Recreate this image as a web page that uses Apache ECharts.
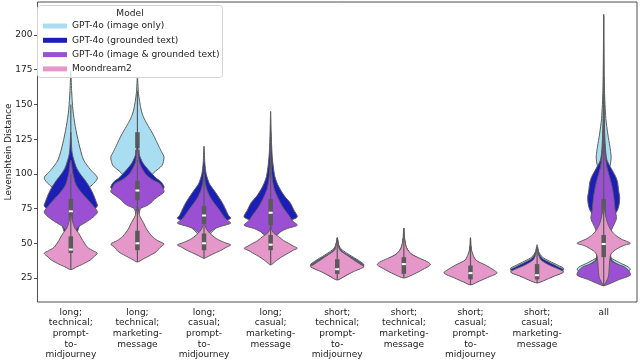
<!DOCTYPE html>
<html>
<head>
<meta charset="utf-8">
<script src="https://cdn.jsdelivr.net/npm/echarts@6/dist/echarts.min.js"></script>
<style>html,body{margin:0;padding:0;background:#fff}#chart{width:640px;height:361px}</style>
</head>
<body>
<div id="chart"></div>
<script>
// ---------- data ----------
const categories = [
  "long; technical; prompt-to-midjourney",
  "long; technical; marketing-message",
  "long; casual; prompt-to-midjourney",
  "long; casual; marketing-message",
  "short; technical; prompt-to-midjourney",
  "short; technical; marketing-message",
  "short; casual; prompt-to-midjourney",
  "short; casual; marketing-message",
  "all"
];
const models = ["GPT-4o (image only)", "GPT-4o (grounded text)", "GPT-4o (image & grounded text)", "Moondream2"];
const yTicks = [25, 50, 75, 100, 125, 150, 175, 200];

// violin outlines: [value, relative density (1 = widest)], top to bottom
const imageOnlyDensity = [
  [[174,0],[160,0.03],[146,0.08],[134,0.17],[122,0.3],[110,0.48],[103,0.74],[97,1.0],[92,0.8],[88,0.55],[80,0.42],[70,0.32],[60,0.14],[52,0]],
  [[170,0],[158,0.04],[146,0.14],[140,0.25],[134,0.42],[128,0.6],[122,0.75],[116,0.9],[112,1.0],[106,0.92],[101,0.62],[96,0.45],[90,0.4],[84,0.3],[78,0.15],[74,0]],
  [[108,0],[95,0.08],[84,0.3],[74,0.6],[68,0.7],[62,0.5],[56,0.2],[50,0]],
  [[120,0],[100,0.08],[86,0.3],[75,0.6],[68,0.72],[61,0.5],[55,0.2],[50,0]],
  [[54,0],[49,0.05],[46,0.14],[43,0.35],[40,0.6],[37,0.85],[34.5,1.0],[31,0.62],[28,0.32],[25.5,0]],
  [[55,0],[48,0.07],[43,0.22],[39,0.55],[35,0.88],[31,0.58],[28,0.28],[26,0]],
  [[48,0],[40,0.09],[35,0.38],[31,0.78],[28.5,0.88],[25,0.48],[22,0.18],[21,0]],
  [[49,0],[44,0.06],[40,0.2],[37,0.48],[34,0.8],[31.8,1.0],[28.5,0.6],[25.5,0.25],[23,0]],
  [[215,0],[190,0.01],[160,0.03],[140,0.08],[128,0.16],[120,0.23],[112,0.28],[106,0.24],[101,0.15],[95,0.2],[85,0.3],[75,0.3],[65,0.25],[55,0.2],[45,0.2],[40,0.25],[36,0.6],[33,0.92],[31,1.0],[28,0.7],[25,0.4],[21,0]]
];
const groundedDensity = [
  [[130,0],[115,0.05],[105,0.2],[100,0.35],[95,0.55],[90,0.72],[85,0.85],[80,0.95],[77,1.0],[74,0.85],[70,0.5],[64,0.35],[56,0.2],[50,0]],
  [[125,0],[115,0.05],[108,0.2],[102,0.45],[97,0.7],[94,0.9],[90,1.0],[87,0.7],[84,0.5],[80,0.3],[77,0.12],[72,0]],
  [[120,0],[108,0.03],[100,0.08],[93,0.2],[88,0.38],[83,0.56],[78,0.72],[74,0.82],[70,0.92],[68,1.0],[65,0.7],[61,0.35],[57,0.12],[52,0]],
  [[145,0],[130,0.02],[115,0.05],[105,0.1],[98,0.16],[93,0.25],[88.5,0.37],[84,0.52],[79,0.74],[74,0.87],[69,1.0],[66,0.7],[60,0.35],[54,0.12],[50,0]],
  [[52,0],[47,0.08],[44,0.2],[41,0.45],[38,0.72],[35.5,0.92],[34,1.0],[30.5,0.6],[27,0.3],[24.5,0]],
  [[55,0],[48,0.07],[43,0.22],[39,0.55],[35,0.88],[31,0.58],[28,0.28],[26,0]],
  [[48,0],[40,0.09],[35,0.38],[31,0.78],[28.5,0.88],[25,0.48],[22,0.18],[21,0]],
  [[47.5,0],[43,0.06],[39,0.2],[36,0.48],[33,0.8],[30.8,1.0],[27.5,0.6],[24.5,0.25],[22,0]],
  [[170,0],[140,0.02],[120,0.06],[110,0.12],[104,0.28],[98,0.45],[94,0.52],[88,0.56],[83,0.6],[78,0.58],[74,0.52],[70,0.4],[64,0.3],[55,0.25],[45,0.25],[38,0.3],[34,0.6],[31,0.85],[28,0.95],[25,0.6],[22,0.3],[20,0]]
];
const imageGroundedDensity = [
  [[110,0],[100,0.08],[92,0.2],[86,0.42],[81,0.66],[77,0.84],[72.5,1.0],[69,0.85],[65,0.55],[62,0.3],[58,0.15],[52,0.08],[46,0]],
  [[118,0],[108,0.08],[100,0.3],[96,0.55],[93,0.85],[89,0.97],[87,1.0],[84,0.8],[81,0.6],[79,0.5],[77,0.35],[75,0.12],[70,0.05],[62,0]],
  [[100,0],[93,0.05],[88,0.12],[83,0.24],[79,0.38],[75,0.54],[70,0.72],[67,0.85],[64.5,1.0],[62,0.6],[60,0.35],[57,0.18],[52,0.08],[46,0]],
  [[115,0],[100,0.04],[90,0.12],[84,0.24],[79,0.37],[76,0.46],[71,0.65],[66,0.83],[63,1.0],[60.5,0.6],[58,0.35],[55,0.15],[50,0.05],[46,0]],
  [[52,0],[46,0.08],[43,0.2],[40,0.45],[37,0.75],[35,0.9],[33.5,1.0],[30,0.6],[26.5,0.3],[24,0]],
  [[55,0],[48,0.07],[43,0.22],[39,0.55],[35,0.88],[31,0.58],[28,0.28],[26,0]],
  [[48,0],[40,0.09],[35,0.38],[31,0.78],[28.5,0.88],[25,0.48],[22,0.18],[21,0]],
  [[45,0],[40,0.06],[36,0.2],[33,0.5],[31,0.8],[29,0.95],[26,0.55],[23,0.2],[22,0]],
  [[160,0],[130,0.02],[115,0.05],[105,0.12],[98,0.22],[92,0.3],[86,0.36],[80,0.4],[74,0.43],[68,0.48],[64,0.4],[60,0.3],[50,0.2],[42,0.2],[38,0.25],[35,0.5],[33,0.78],[30,0.95],[27,1.0],[24,0.6],[21.5,0.3],[19.5,0]]
];
const moondreamDensity = [
  [[72,0],[66,0.06],[61,0.15],[57,0.3],[52,0.45],[47,0.63],[44.5,0.85],[42.8,1.0],[40,0.85],[37.8,0.72],[35,0.45],[33,0.22],[31,0]],
  [[77,0],[70,0.08],[65,0.22],[60,0.35],[55,0.55],[52,0.75],[49.5,1.0],[47,0.85],[44,0.72],[41,0.45],[38.5,0.2],[36.5,0]],
  [[64,0],[60,0.1],[57.2,0.22],[54.5,0.38],[52.4,0.55],[50.5,0.78],[48.8,1.0],[47,0.82],[45.2,0.67],[43,0.42],[41,0.2],[39.2,0]],
  [[62,0],[58,0.08],[54.8,0.3],[52,0.48],[50,0.67],[48,0.85],[46.4,1.0],[45,0.85],[43,0.67],[40,0.4],[37,0.18],[34.4,0]],
  [[54,0],[48,0.05],[45,0.1],[41,0.4],[37,0.7],[34.5,0.9],[33,1.0],[29.5,0.6],[26.5,0.3],[23.5,0]],
  [[61,0],[52,0.04],[46,0.12],[42,0.3],[39,0.62],[36.5,0.9],[34.5,1.0],[31,0.7],[28,0.4],[25,0]],
  [[54,0],[45,0.04],[38,0.2],[34.4,0.55],[31,0.85],[28.6,1.0],[25,0.6],[22,0.25],[20,0]],
  [[47,0],[42,0.05],[38,0.15],[34.4,0.45],[31.5,0.8],[29.3,1.0],[26,0.6],[23,0.25],[21.4,0]],
  [[78,0],[72,0.05],[66,0.12],[62,0.2],[58,0.33],[55,0.5],[53,0.66],[50,1.0],[48.5,0.75],[46.6,0.55],[44,0.35],[41.6,0.26],[36.5,0.22],[30,0.2],[25,0.16],[20,0]]
];

// inner box stats: [lower whisker, Q1, median, Q3, upper whisker]
const imageOnlyBox = [[62,90,103,112,150],[78,108,118,130,160],[52,62,68,76,95],[52,62,70,80,105],[26,29,33,38,48],[27,29,34,39,50],[22,25,28,33,45],[23,26,30,35,45],[20,30,40,95,214]];
const groundedBox = [[52,73,80,88,108],[62,84,90,97,115],[54,66,72,80,105],[55,68,77,90,130],[26,29,33,38,48],[27,29,34,39,50],[22,25,28,33,45],[23,26,30,35,45],[20,32,70,86,150]];
const imageGroundedBox = [[50,67,73,82,100],[60,81,88,95,110],[50,64,70,77,98],[50,63,72,82,112],[25,28,32.5,38,48],[26,29,34,39,50],[21,24,28,33,45],[22,25,28.5,34,44],[19,28,66,82,140]];
const moondreamBox = [[31,43,45.5,55,72],[36.5,45,50,59,77],[39,45,50,57,63],[34.5,45,49,56,62],[23.5,28,31.3,38.5,54],[25,28,35,40,61],[20,24,28.5,34,54],[21.4,24,27,35,47],[20,40,49.5,56,78]];

const colors = ["#a9def2", "#1c1eb8", "#9b50d4", "#e497c8"];

// ---------- chart ----------
const FONT = "DejaVu Sans";
function makeRender(profiles, boxes, color) {
  return function (params, api) {
    const i = api.value(0);
    const prof = profiles[i];
    const b = boxes[i];
    const band = api.size([1, 0])[0];
    const half = band * 0.4;
    const cx = api.coord([i, 0])[0];
    const py = v => api.coord([i, v])[1];
    const right = prof.map(p => [cx + p[1] * half, py(p[0])]);
    const left = prof.slice(1, -1).reverse().map(p => [cx - p[1] * half, py(p[0])]);
    return {
      type: 'group',
      children: [
        { type: 'polygon', shape: { points: right.concat(left), smooth: 0.25 },
          style: { fill: color, stroke: '#5c5c5c', lineWidth: 1 } },
        { type: 'line', shape: { x1: cx, y1: py(b[0]), x2: cx, y2: py(b[4]) },
          style: { stroke: '#5a5a5a', lineWidth: 1.2 } },
        { type: 'line', shape: { x1: cx, y1: py(b[1]), x2: cx, y2: py(b[3]) },
          style: { stroke: '#5a5a5a', lineWidth: 4.5 } },
        { type: 'rect', shape: { x: cx - 2, y: py(b[2]) - 1, width: 4, height: 2 },
          style: { fill: '#ffffff' } }
      ]
    };
  };
}
const densities = [imageOnlyDensity, groundedDensity, imageGroundedDensity, moondreamDensity];
const boxesAll = [imageOnlyBox, groundedBox, imageGroundedBox, moondreamBox];

const chart = echarts.init(document.getElementById('chart'), null, { renderer: 'canvas' });
chart.setOption({
  animation: false,
  textStyle: { fontFamily: FONT },
  grid: { left: 37.5, right: 3, top: 2, bottom: 59, containLabel: false, outerBoundsMode: 'none',
    show: true, borderColor: '#222', borderWidth: 0.8, backgroundColor: 'transparent' },
  xAxis: {
    type: 'category', data: categories, boundaryGap: true,
    axisLine: { show: false },
    axisTick: { alignWithLabel: true, length: 3.5, lineStyle: { color: '#222', width: 0.8 } },
    axisLabel: { interval: 0, margin: 5, fontSize: 9, lineHeight: 10.7, color: '#222', fontFamily: FONT,
      formatter: s => s.replace(/; /g, ';\n').replace(/-/g, '-\n') },
    splitLine: { show: false }
  },
  yAxis: {
    type: 'value', min: 7.7, max: 223.8,
    name: 'Levenshtein Distance', nameLocation: 'middle', nameGap: 24, nameMoveOverlap: false,
    nameTextStyle: { fontSize: 9, color: '#222', fontFamily: FONT },
    axisLine: { show: false },
    axisTick: { show: true, length: 3.5, customValues: yTicks, lineStyle: { color: '#222', width: 0.8 } },
    axisLabel: { fontSize: 9, color: '#222', margin: 5, customValues: yTicks, fontFamily: FONT },
    splitLine: { show: false }
  },
  legend: {
    orient: 'vertical', left: 43, top: 20, padding: 0, itemGap: 2.3,
    itemWidth: 24, itemHeight: 5, icon: 'rect', z: 5,
    selectedMode: false,
    textStyle: { fontSize: 9.1, lineHeight: 12, color: '#222', fontFamily: FONT },
    data: models
  },
  graphic: [
    { type: 'rect', z: 3, shape: { x: 37.5, y: 5.5, width: 185, height: 72, r: 3 },
      style: { fill: 'rgba(255,255,255,0.8)', stroke: '#d4d4d4', lineWidth: 1 } },
    { type: 'text', z: 4, x: 130, y: 14, style: { text: 'Model', fontSize: 9.1, fill: '#222', fontFamily: FONT, align: 'center', verticalAlign: 'middle' } }
  ],
  series: models.map((m, k) => ({
    type: 'custom', name: m,
    itemStyle: { color: colors[k] },
    renderItem: makeRender(densities[k], boxesAll[k], colors[k]),
    encode: { x: 0, y: 1 },
    data: categories.map((c, i) => [i, 50])
  }))
});
</script>
</body>
</html>
